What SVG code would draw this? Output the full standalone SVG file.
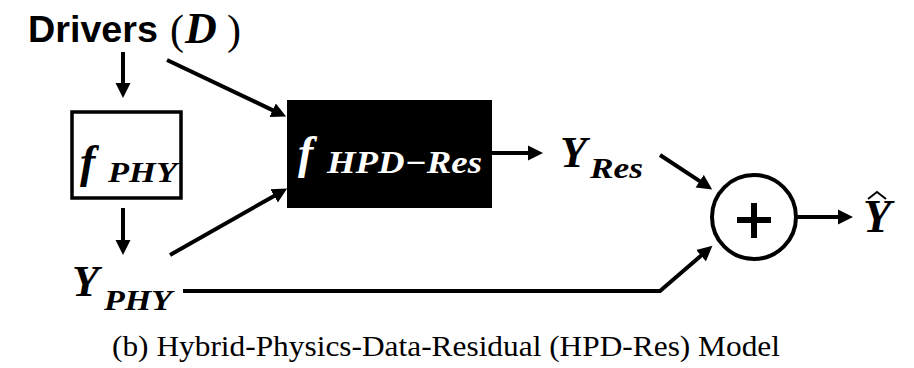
<svg xmlns="http://www.w3.org/2000/svg" width="914" height="368" viewBox="0 0 914 368">
<style>
.ln{stroke:#000;stroke-width:4;fill:none}
.m{font-family:'Liberation Serif','Times New Roman',Times,serif;font-weight:bold;font-style:italic}
.r{font-family:'Liberation Serif','Times New Roman',Times,serif}
</style>
<defs>
<marker id="ah" viewBox="0 -8 16 16" refX="1" refY="0" markerWidth="16" markerHeight="16" markerUnits="userSpaceOnUse" orient="auto">
<path d="M0,-7.5 L15,0 L0,7.5 Z" fill="#000"/>
</marker>
</defs>
<rect width="914" height="368" fill="#fff"/>
<g id="drivers">
<text font-family="Liberation Sans, Arial, sans-serif" font-weight="bold" x="28" y="42" font-size="37" textLength="130" lengthAdjust="spacingAndGlyphs">Drivers</text>
<text class="r" x="170" y="44" font-size="42">(</text>
<text class="m" x="185" y="43" font-size="44">D</text>
<text class="r" x="227" y="44" font-size="42">)</text>
</g>
<g id="fphy">
<rect x="72" y="112" width="109" height="86" fill="#fff" stroke="#000" stroke-width="3.5"/>
<text class="m" x="80" y="177" font-size="46">f</text>
<text class="m" x="108" y="182" font-size="29" textLength="69" lengthAdjust="spacingAndGlyphs">PHY</text>
</g>
<g id="fhpd">
<rect x="287" y="100" width="205" height="108" fill="#000"/>
<text class="m" x="298" y="168" font-size="46" fill="#fff">f</text>
<text class="m" x="327" y="173" font-size="31" fill="#fff" textLength="155" lengthAdjust="spacingAndGlyphs">HPD−Res</text>
</g>
<g id="yphy">
<text class="m" x="72" y="296" font-size="44">Y</text>
<text class="m" x="104" y="310" font-size="29" textLength="68" lengthAdjust="spacingAndGlyphs">PHY</text>
</g>
<g id="yres">
<text class="m" x="560" y="167" font-size="44">Y</text>
<text class="m" x="590" y="178" font-size="29" textLength="53" lengthAdjust="spacingAndGlyphs">Res</text>
</g>
<g id="sum">
<circle cx="754" cy="217" r="42" fill="#fff" stroke="#000" stroke-width="4"/>
<path d="M737,220 H771 M754,203 V238" stroke="#000" stroke-width="6" fill="none"/>
</g>
<g id="yhat">
<text class="m" x="863" y="232" font-size="46">Y</text>
<path d="M868,199 L877,192 L886,199" stroke="#000" stroke-width="2" fill="none"/>
</g>
<g id="connectors">
<path class="ln" d="M123,52 V84" marker-end="url(#ah)"/>
<path class="ln" d="M167,60 L273.5,110.6" marker-end="url(#ah)"/>
<path class="ln" d="M123,208 V241" marker-end="url(#ah)"/>
<path class="ln" d="M170,255 L275,195.4" marker-end="url(#ah)"/>
<path class="ln" d="M492,153 H529" marker-end="url(#ah)"/>
<path class="ln" d="M660,155 L700.5,181.7" marker-end="url(#ah)"/>
<path class="ln" d="M183,291 H660 L701.8,255" marker-end="url(#ah)"/>
<path class="ln" d="M796,217 H839" marker-end="url(#ah)"/>
</g>
<g id="caption">
<text class="r" x="112" y="356" font-size="29" textLength="668" lengthAdjust="spacingAndGlyphs">(b) Hybrid-Physics-Data-Residual (HPD-Res) Model</text>
</g>
</svg>
